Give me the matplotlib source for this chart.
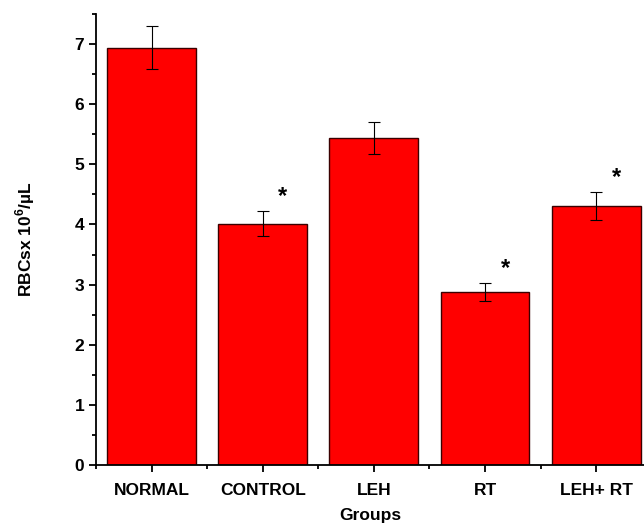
import matplotlib.pyplot as plt
from matplotlib.ticker import MultipleLocator

plt.rcParams['font.family'] = ['Liberation Sans', 'DejaVu Sans']
plt.rcParams['font.weight'] = 'bold'
plt.rcParams['mathtext.fontset'] = 'custom'
plt.rcParams['mathtext.bf'] = 'Liberation Sans:bold'

groups = ['NORMAL', 'CONTROL', 'LEH', 'RT', 'LEH+ RT']
means = [6.94, 4.01, 5.44, 2.88, 4.31]
errors = [0.35, 0.21, 0.27, 0.15, 0.23]
signif = [False, True, False, True, True]

fig = plt.figure(figsize=(6.44, 5.31), dpi=100)
ax = fig.add_axes([0.149, 0.124, 0.851, 0.85])

x = list(range(1, len(groups) + 1))
ax.bar(x, means, width=0.8, color='#ff0000', edgecolor='#3a0000', linewidth=1,
       yerr=errors, error_kw=dict(ecolor='black', elinewidth=0.8, capsize=4, capthick=0.8))

for xi, m, e, s in zip(x, means, errors, signif):
    if s:
        ax.text(xi + 0.18, m + e + 0.05, '*', ha='center', va='bottom', fontsize=17, fontweight='bold')

ax.set_xlim(0.5, 5.43)
ax.set_ylim(0, 7.5)
ax.set_xticks(x)
ax.set_xticklabels(groups, fontsize=12.5, fontweight='bold')
ax.xaxis.set_minor_locator(MultipleLocator(1, offset=0.5))
ax.yaxis.set_major_locator(MultipleLocator(1))
ax.yaxis.set_minor_locator(MultipleLocator(0.5))
ax.tick_params(axis='y', labelsize=12.5)
ax.tick_params(axis='x', pad=8)
ax.tick_params(which='major', length=5, width=1.3, direction='out')
ax.tick_params(which='minor', length=3, width=1.3, direction='out')
for lab in ax.get_yticklabels():
    lab.set_fontweight('bold')

ax.spines['top'].set_visible(False)
ax.spines['right'].set_visible(False)
ax.spines['left'].set_linewidth(1.3)
ax.spines['bottom'].set_linewidth(1.3)

ax.set_xlabel('Groups', fontsize=12.5, fontweight='bold', labelpad=7)
ax.set_ylabel('RBCsx 10$^{\\mathbf{6}}$/µL', fontsize=12.5, fontweight='bold', labelpad=27)

fig.savefig('out.png', dpi=100)
